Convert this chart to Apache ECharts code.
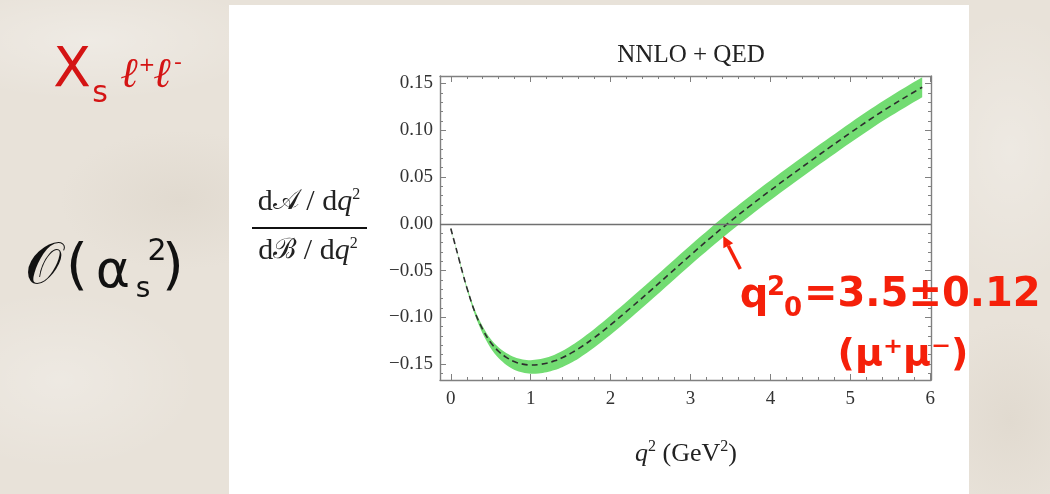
<!DOCTYPE html>
<html>
<head>
<meta charset="utf-8">
<script src="https://cdn.jsdelivr.net/npm/echarts@6/dist/echarts.min.js"></script>
<style>
  html, body { margin: 0; padding: 0; }
  body {
    width: 1050px; height: 494px; overflow: hidden;
    background-color: #e8e2d9;
    background-image:
      radial-gradient(ellipse 180px 60px at 90px 40px, rgba(255,255,255,0.30), rgba(255,255,255,0)),
      radial-gradient(ellipse 140px 90px at 60px 380px, rgba(255,255,255,0.25), rgba(255,255,255,0)),
      radial-gradient(ellipse 120px 70px at 180px 200px, rgba(200,190,175,0.22), rgba(200,190,175,0)),
      radial-gradient(ellipse 90px 140px at 1010px 150px, rgba(255,255,255,0.25), rgba(255,255,255,0)),
      radial-gradient(ellipse 80px 100px at 1010px 420px, rgba(200,190,175,0.22), rgba(200,190,175,0));
  }
  #chart { width: 1050px; height: 494px; }
</style>
</head>
<body>
<div id="chart"></div>
<script>
// q^2 sample points (GeV^2)
const q2 = [0, 0.05, 0.1, 0.15, 0.2, 0.3, 0.4, 0.5, 0.6, 0.7, 0.8, 0.9, 1.0, 1.1, 1.2, 1.3, 1.4, 1.5, 1.6, 1.8, 2.0, 2.25, 2.5, 2.75, 3.0, 3.25, 3.5, 3.75, 4.0, 4.25, 4.5, 4.75, 5.0, 5.25, 5.5, 5.75, 5.9];
// central value of the normalized forward-backward asymmetry
const central = [-0.005, -0.021, -0.037, -0.053, -0.068, -0.094, -0.113, -0.127, -0.1365, -0.143, -0.1475, -0.150, -0.151, -0.1505, -0.149, -0.1465, -0.143, -0.1385, -0.1335, -0.1215, -0.108, -0.090, -0.0715, -0.0525, -0.0335, -0.015, 0.0027, 0.0195, 0.0357, 0.0515, 0.067, 0.0822, 0.0972, 0.1118, 0.1255, 0.1385, 0.146];
// uncertainty band edges
const bandHigh = [-0.0045, -0.0203, -0.036, -0.0517, -0.0664, -0.0916, -0.1098, -0.1232, -0.1322, -0.1384, -0.1427, -0.145, -0.1458, -0.1449, -0.143, -0.1399, -0.1358, -0.1307, -0.1251, -0.1122, -0.0981, -0.0797, -0.061, -0.0419, -0.0229, -0.0044, 0.0133, 0.0301, 0.0463, 0.0621, 0.0776, 0.0928, 0.1078, 0.1224, 0.1361, 0.1491, 0.1566];
const bandLow = [-0.0055, -0.0217, -0.038, -0.0543, -0.0698, -0.097, -0.1175, -0.133, -0.1438, -0.1512, -0.1563, -0.1591, -0.1603, -0.16, -0.1587, -0.1564, -0.1531, -0.1488, -0.1439, -0.132, -0.1186, -0.1006, -0.0821, -0.0631, -0.0441, -0.0256, -0.0079, 0.0089, 0.0251, 0.0409, 0.0564, 0.0716, 0.0866, 0.1012, 0.1149, 0.1279, 0.1354];

// tick positions
const xMajorTicks = [0, 1, 2, 3, 4, 5, 6];
const xMinorTicks = [0.2, 0.4, 0.6, 0.8, 1.2, 1.4, 1.6, 1.8, 2.2, 2.4, 2.6, 2.8, 3.2, 3.4, 3.6, 3.8, 4.2, 4.4, 4.6, 4.8, 5.2, 5.4, 5.6, 5.8];
const yMajorTicks = [-0.15, -0.10, -0.05, 0, 0.05, 0.10, 0.15];
const yMinorTicks = [-0.16, -0.14, -0.13, -0.12, -0.11, -0.09, -0.08, -0.07, -0.06, -0.04, -0.03, -0.02, -0.01,
                     0.01, 0.02, 0.03, 0.04, 0.06, 0.07, 0.08, 0.09, 0.11, 0.12, 0.13, 0.14];

// zero crossing annotation
const crossing = { x: 3.41, y: -0.013, label: '3.5±0.12' };

const X_MIN = -0.135, X_MAX = 6.01, Y_MIN = -0.167, Y_MAX = 0.158;
const FRAME = '#808080';
const SERIF = "'Liberation Serif', 'DejaVu Serif', serif";
const RED = '#f5200a';

function xAxisDef(pos, ticks, len, showLine, showLabel) {
  return {
    type: 'value', position: pos, min: X_MIN, max: X_MAX,
    axisLine: { show: showLine, onZero: false, lineStyle: { color: FRAME, width: 1.4 } },
    axisTick: { show: true, inside: true, length: len, customValues: ticks, lineStyle: { color: FRAME, width: 1 } },
    axisLabel: showLabel ? { show: true, customValues: xMajorTicks, fontFamily: SERIF, fontSize: 19, color: '#333', margin: 10 } : { show: false },
    splitLine: { show: false }
  };
}
function yAxisDef(pos, ticks, len, showLine, showLabel) {
  return {
    type: 'value', position: pos, min: Y_MIN, max: Y_MAX,
    axisLine: { show: showLine, onZero: false, lineStyle: { color: FRAME, width: 1.4 } },
    axisTick: { show: true, inside: true, length: len, customValues: ticks, lineStyle: { color: FRAME, width: 1 } },
    axisLabel: showLabel ? {
      show: true, customValues: yMajorTicks, fontFamily: SERIF, fontSize: 19, color: '#333', margin: 7,
      formatter: v => (v < -1e-9 ? '\u2212' : '') + Math.abs(v).toFixed(2)
    } : { show: false },
    splitLine: { show: false }
  };
}

const chart = echarts.init(document.getElementById('chart'), null, { renderer: 'canvas' });

// band drawn as one closed shape: upper edge forward, lower edge back;
// end points are repeated so the smoothing keeps the band ends square
function renderBand(params, api) {
  if (params.dataIndex !== 0) return null;
  const n = params.dataInsideLength;
  const upper = [], lower = [];
  for (let i = 0; i < n; i++) {
    const x = api.value(0, i);
    upper.push(api.coord([x, api.value(2, i)]));
    lower.push(api.coord([x, api.value(1, i)]));
  }
  lower.reverse();
  const pts = [upper[0]].concat(upper, [upper[n - 1], lower[0]], lower, [lower[n - 1]]);
  return {
    type: 'polygon',
    shape: { points: pts, smooth: 0.3 },
    style: { fill: '#72dc72' }
  };
}

chart.setOption({
  backgroundColor: 'transparent',
  animation: false,
  grid: { left: 440, top: 76, right: 119, bottom: 114 },
  title: {
    text: 'NNLO + QED', left: 686, top: 38, textAlign: 'center',
    textStyle: { fontFamily: SERIF, fontSize: 25, fontWeight: 'normal', color: '#222' }
  },
  xAxis: [
    xAxisDef('bottom', xMajorTicks, 6, true, true),
    xAxisDef('bottom', xMinorTicks, 3, false, false),
    xAxisDef('top', xMajorTicks, 6, true, false),
    xAxisDef('top', xMinorTicks, 3, false, false)
  ],
  yAxis: [
    yAxisDef('left', yMajorTicks, 6, true, true),
    yAxisDef('left', yMinorTicks, 3, false, false),
    yAxisDef('right', yMajorTicks, 6, true, false),
    yAxisDef('right', yMinorTicks, 3, false, false)
  ],
  series: [
    {
      type: 'custom', name: 'band', renderItem: renderBand, clip: true,
      data: q2.map((x, i) => [x, bandLow[i], bandHigh[i]]),
      encode: { x: 0, y: [1, 2] }, z: 2, silent: true
    },
    {
      type: 'line', name: 'central', data: q2.map((x, i) => [x, central[i]]), smooth: 0.4, symbol: 'none',
      lineStyle: { color: '#2e2e2e', width: 1.6, type: [6, 4] }, z: 4,
      markLine: {
        silent: true, symbol: 'none', label: { show: false },
        lineStyle: { color: '#707070', width: 1.3, type: 'solid' },
        data: [{ yAxis: 0 }]
      }
    }
  ],
  graphic: []
});

// arrow pointing at the zero crossing, placed from data coordinates
const tip = chart.convertToPixel({ xAxisIndex: 0, yAxisIndex: 0 }, [crossing.x, crossing.y]);
const tail = [tip[0] + 17, tip[1] + 33];
const ang = Math.atan2(tip[1] - tail[1], tip[0] - tail[0]);
const hl = 11, hw = 5.5;
const bx = tip[0] - hl * Math.cos(ang), by = tip[1] - hl * Math.sin(ang);
const head = [
  tip,
  [bx + hw * Math.sin(ang), by - hw * Math.cos(ang)],
  [bx - hw * Math.sin(ang), by + hw * Math.cos(ang)]
];

const SANS = "'DejaVu Sans', 'Noto Sans', sans-serif";
const txt = (x, y, text, size, color, extra) => ({
  type: 'text', x: x, y: y, z: 100,
  style: Object.assign({ text: text, fontSize: size, fill: color, fontFamily: SANS, align: 'center', verticalAlign: 'middle' }, extra || {})
});
const fracRich = {
  n: { fontFamily: SERIF, fontSize: 30, fill: '#222' },
  s: { fontFamily: "'DejaVu Serif', serif", fontSize: 28, fill: '#222' },
  i: { fontFamily: SERIF, fontSize: 30, fontStyle: 'italic', fill: '#222' },
  p: { fontFamily: SERIF, fontSize: 16, fill: '#222', verticalAlign: 'top', padding: [0, 0, 15, 0] }
};

chart.setOption({
  graphic: [
    // white panel behind the plot
    { type: 'rect', shape: { x: 229, y: 5, width: 740, height: 489 }, style: { fill: '#ffffff' }, z: -10, silent: true },

    // X_s l+ l-
    txt(72, 72, 'X', 55, '#d41414'),
    txt(100, 94, 's', 30, '#d41414'),
    txt(129, 76, '\u2113', 42, '#d41414', { fontFamily: "'DejaVu Serif', serif", fontStyle: 'italic' }),
    txt(147, 66, '+', 20, '#d41414'),
    txt(162, 76, '\u2113', 42, '#d41414', { fontFamily: "'DejaVu Serif', serif", fontStyle: 'italic' }),
    txt(178, 63, '-', 22, '#d41414'),

    // O(alpha_s^2)
    txt(43, 268, '\ud835\udcaa', 58, '#111', { fontFamily: "'DejaVu Serif', 'DejaVu Sans', serif" }),
    txt(77, 268, '(', 56, '#111'),
    txt(113, 273, '\u03b1', 52, '#111'),
    txt(143, 290, 's', 28, '#111'),
    txt(157, 252, '2', 30, '#111'),
    txt(173, 268, ')', 56, '#111'),

    // y-axis title as a fraction
    { type: 'text', x: 309, y: 202, z: 100, style: {
        text: '{n|d}{s|\ud835\udc9c}{n| / d}{i|q}{p|2}', align: 'center', verticalAlign: 'middle', rich: fracRich } },
    { type: 'line', shape: { x1: 252, y1: 228, x2: 367, y2: 228 }, style: { stroke: '#111', lineWidth: 2 }, z: 100 },
    { type: 'text', x: 308, y: 251, z: 100, style: {
        text: '{n|d}{s|\u212c}{n| / d}{i|q}{p|2}', align: 'center', verticalAlign: 'middle', rich: fracRich } },

    // x-axis title
    { type: 'text', x: 686, y: 454, z: 100, style: {
        text: '{i|q}{p|2}{n| (GeV}{p|2}{n|)}', align: 'center', verticalAlign: 'middle',
        rich: {
          n: { fontFamily: SERIF, fontSize: 26, fill: '#222' },
          i: { fontFamily: SERIF, fontSize: 26, fontStyle: 'italic', fill: '#222' },
          p: { fontFamily: SERIF, fontSize: 16, fill: '#222', verticalAlign: 'top', padding: [0, 0, 14, 0] }
        } } },

    // arrow to the zero crossing
    { type: 'line', shape: { x1: tail[0], y1: tail[1], x2: bx, y2: by }, style: { stroke: RED, lineWidth: 3.5 }, z: 100 },
    { type: 'polygon', shape: { points: head }, style: { fill: RED }, z: 100 },

    // zero-crossing value
    txt(754, 297, 'q', 40, RED, { fontWeight: 'bold' }),
    txt(776, 288, '2', 26, RED, { fontWeight: 'bold' }),
    txt(793, 309, '0', 26, RED, { fontWeight: 'bold' }),
    txt(804, 296, '=' + crossing.label, 40, RED, { fontWeight: 'bold', align: 'left' }),
    txt(903, 355, '(\u03bc\u207a\u03bc\u207b)', 38, RED, { fontWeight: 'bold' })
  ]
});
</script>
</body>
</html>
